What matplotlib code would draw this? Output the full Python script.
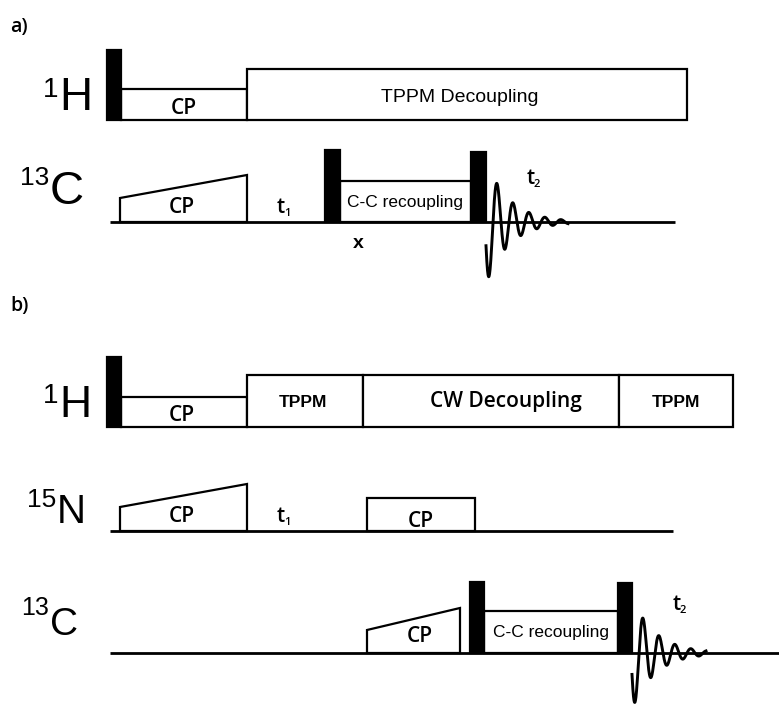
import numpy as np
import matplotlib.pyplot as plt
from matplotlib.patches import Rectangle, Polygon

W, H = 779, 704
LW = 1.6

# ---- a) 1H / 13C sequence (time axis in drawing units) ----
a_h_base = 120
a_h_pulse = [107, 121, 50]            # start, end, top
a_h_cp = [121, 247, 89]
a_h_dec = [247, 687, 69]
a_c_base = 222
a_c_line = [110, 675]
a_c_ramp = [120, 247, 198, 175]       # start, end, top at start, top at end
a_c_pulses = [[325, 340, 150], [471, 486, 152]]
a_c_recouple = [340, 471, 181]
a_fid = [486, 82, 62]                 # start, length, amplitude

# ---- b) 1H / 15N / 13C sequence ----
b_h_base = 427
b_h_pulse = [107, 121, 357]
b_h_cp = [121, 247, 397]
b_h_dec = [[247, 363, 375], [363, 619, 375], [619, 733, 375]]
b_n_base = 531
b_n_line = [110, 673]
b_n_ramp = [120, 247, 507, 484]
b_n_cp = [367, 475, 498]
b_c_base = 653
b_c_line = [110, 779]
b_c_ramp = [367, 460, 630, 608]
b_c_pulses = [[470, 484, 582], [618, 632, 583]]
b_c_recouple = [484, 618, 611]
b_fid = [632, 74, 56]

fid_period = 16.0
fid_decay = 23.0

SANS = 'Liberation Sans'
HUMAN = 'Open Sans'
HW = 'semibold'


def pulse(ax, seg, base):
    x0, x1, top = seg
    ax.add_patch(Rectangle((x0, top), x1 - x0, base - top, fc='black', ec='black', lw=LW))


def box(ax, seg, base):
    x0, x1, top = seg
    ax.add_patch(Rectangle((x0, top), x1 - x0, base - top, fc='white', ec='black', lw=LW))


def ramp(ax, seg, base):
    x0, x1, t0, t1 = seg
    ax.add_patch(Polygon([(x0, base), (x0, t0), (x1, t1), (x1, base)], closed=True,
                         fc='white', ec='black', lw=LW, joinstyle='miter'))


def baseline(ax, seg, base):
    ax.plot(seg, [base, base], color='black', lw=2.0, solid_capstyle='butt')


def fid(ax, spec, base):
    x0, length, amp = spec
    t = np.linspace(0, length, 600)
    y = -amp * np.exp(-t / fid_decay) * np.sin(2 * np.pi * t / fid_period + np.pi / 8)
    ax.plot(x0 + t, base - y, color='black', lw=2.1)


def nucleus(ax, x, base, mass, sym, size, sup_size, sup_rise):
    ax.text(x, base, sym, fontsize=size, family=SANS, ha='left', va='baseline')
    ax.text(x - 1, base - sup_rise, mass, fontsize=sup_size, family=SANS,
            ha='right', va='baseline')


def tlabel(ax, x, base, idx):
    ax.text(x, base, 't', fontsize=15, family=HUMAN, weight=HW, ha='left', va='baseline')
    ax.text(x + 7, base + 3, idx, fontsize=8, family=HUMAN, weight=HW, ha='left', va='baseline')


def cp(ax, x, base):
    ax.text(x, base, 'CP', fontsize=15, family=HUMAN, weight=HW, ha='center', va='baseline')


fig = plt.figure(figsize=(W / 100, H / 100), dpi=100)
ax = fig.add_axes([0, 0, 1, 1])
ax.set_xlim(0, W)
ax.set_ylim(H, 0)
ax.axis('off')

# ---------------- a) ----------------
ax.text(10, 32, 'a)', fontsize=14, family=HUMAN, weight=HW, va='baseline')
box(ax, a_h_cp, a_h_base)
box(ax, a_h_dec, a_h_base)
pulse(ax, a_h_pulse, a_h_base)
cp(ax, (a_h_cp[0] + a_h_cp[1]) / 2, 114)
ax.text(460, 102, 'TPPM Decoupling', fontsize=14, family=SANS, ha='center', va='baseline')

baseline(ax, a_c_line, a_c_base)
ramp(ax, a_c_ramp, a_c_base)
box(ax, a_c_recouple, a_c_base)
for p in a_c_pulses:
    pulse(ax, p, a_c_base)
fid(ax, a_fid, a_c_base)
cp(ax, 182, 213)
tlabel(ax, 277, 213, '1')
ax.text((a_c_recouple[0] + a_c_recouple[1]) / 2, 207, 'C-C recoupling', fontsize=12.5,
        family=SANS, ha='center', va='baseline')
ax.text(358, 248, 'x', fontsize=14, family=SANS, weight='bold', ha='center', va='baseline')
tlabel(ax, 527, 184, '2')

nucleus(ax, 59, 110, '1', 'H', 33, 20, 13)
nucleus(ax, 50, 204, '13', 'C', 34, 19, 19)

# ---------------- b) ----------------
ax.text(10, 311, 'b)', fontsize=14, family=HUMAN, weight=HW, va='baseline')
box(ax, b_h_cp, b_h_base)
for seg in b_h_dec:
    box(ax, seg, b_h_base)
pulse(ax, b_h_pulse, b_h_base)
cp(ax, 182, 421)
ax.text(303, 407, 'TPPM', fontsize=12.5, family=SANS, weight='bold', ha='center', va='baseline')
ax.text(506, 407, 'CW Decoupling', fontsize=15, family=HUMAN, weight=HW, ha='center', va='baseline')
ax.text(676, 407, 'TPPM', fontsize=12.5, family=SANS, weight='bold', ha='center', va='baseline')

baseline(ax, b_n_line, b_n_base)
ramp(ax, b_n_ramp, b_n_base)
box(ax, b_n_cp, b_n_base)
cp(ax, 182, 522)
tlabel(ax, 277, 522, '1')
cp(ax, (b_n_cp[0] + b_n_cp[1]) / 2, 527)

baseline(ax, b_c_line, b_c_base)
ramp(ax, b_c_ramp, b_c_base)
box(ax, b_c_recouple, b_c_base)
for p in b_c_pulses:
    pulse(ax, p, b_c_base)
fid(ax, b_fid, b_c_base)
cp(ax, 420, 642)
ax.text((b_c_recouple[0] + b_c_recouple[1]) / 2, 637, 'C-C recoupling', fontsize=12.5,
        family=SANS, ha='center', va='baseline')
tlabel(ax, 673, 610, '2')

nucleus(ax, 59, 417, '1', 'H', 32, 20, 14)
nucleus(ax, 57, 523, '15', 'N', 29, 19, 16)
nucleus(ax, 50, 635, '13', 'C', 28, 18, 20)

fig.savefig('out.png', dpi=100)
